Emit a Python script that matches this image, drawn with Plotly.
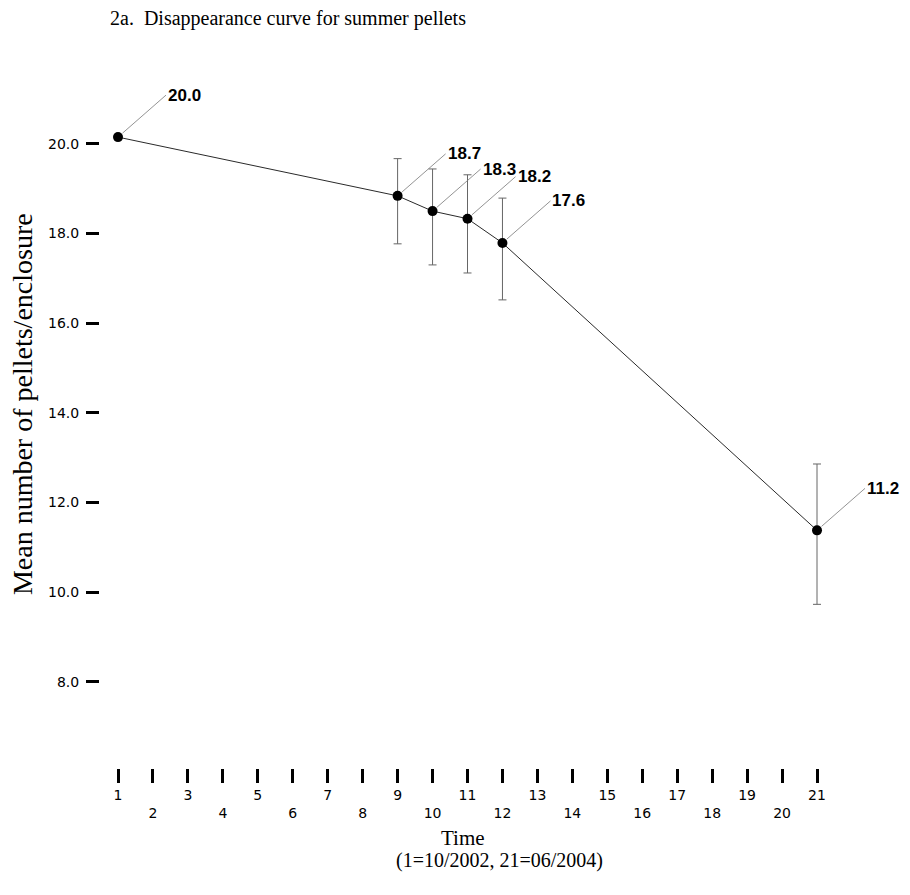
import plotly.graph_objects as go

# Data
time_pts = [1, 9, 10, 11, 12, 21]
mean_pellets = [20.15, 18.84, 18.5, 18.33, 17.79, 11.38]
err_plus = [0.0, 0.83, 0.94, 0.98, 1.0, 1.48]
err_minus = [0.0, 1.07, 1.2, 1.21, 1.27, 1.65]
point_labels = ["20.0", "18.7", "18.3", "18.2", "17.6", "11.2"]

x_ticks = list(range(1, 22))
x_ticktext = [str(v) if v % 2 == 1 else "<br>" + str(v) for v in x_ticks]
y_ticks = [8, 10, 12, 14, 16, 18, 20]

SERIF = "Liberation Serif, Times New Roman, serif"
SANS = "DejaVu Sans, Arial, sans-serif"
BOLD_SANS = "Liberation Sans, Arial, sans-serif"

W, H = 894, 879  # page body has an 8px margin

fig = go.Figure()
fig.add_trace(go.Scatter(
    x=time_pts, y=mean_pellets,
    mode="lines+markers",
    line=dict(color="#2a2a2a", width=1),
    marker=dict(color="black", size=10),
    error_y=dict(type="data", symmetric=False, array=err_plus, arrayminus=err_minus,
                 color="#666666", thickness=1, width=4),
    showlegend=False,
))

for xv, yv, lab in zip(time_pts, mean_pellets, point_labels):
    fig.add_annotation(
        x=xv, y=yv, text="<b>" + lab + "</b>",
        showarrow=True, arrowhead=0, arrowwidth=0.8, arrowcolor="#777777",
        ax=48, ay=-42, standoff=6, xanchor="left", yanchor="middle",
        font=dict(family=BOLD_SANS, size=17, color="black"),
    )

# Axis titles placed as text annotations
fig.add_annotation(xref="paper", yref="paper", x=0, y=0.514, xshift=-78,
                   text="Mean number of pellets/enclosure", textangle=-90, showarrow=False,
                   xanchor="center", yanchor="middle",
                   font=dict(family=SERIF, size=28, color="black"))
fig.add_annotation(xref="paper", yref="paper", x=0.4776, y=0, yshift=-70,
                   text="Time", showarrow=False, xanchor="center", yanchor="middle",
                   font=dict(family=SERIF, size=21, color="black"))
fig.add_annotation(xref="paper", yref="paper", x=0.526, y=0, yshift=-92,
                   text="(1=10/2002, 21=06/2004)", showarrow=False, xanchor="center", yanchor="middle",
                   font=dict(family=SERIF, size=20, color="black"))

fig.update_layout(
    width=W, height=H,
    margin=dict(l=92, r=W - 852, t=52, b=H - 760),
    plot_bgcolor="white", paper_bgcolor="white",
    title=dict(text="2a.  Disappearance curve for summer pellets",
               x=102 / W, xanchor="left", y=1 - 10 / H, yanchor="middle", yref="container",
               font=dict(family=SERIF, size=20, color="black")),
    xaxis=dict(range=[0.485, 22.23], tickmode="array", tickvals=x_ticks, ticktext=x_ticktext,
               showgrid=False, zeroline=False, showline=False,
               ticks="outside", ticklen=14, tickwidth=3, tickcolor="black",
               tickfont=dict(family=SANS, size=14, color="black")),
    yaxis=dict(range=[6.08, 21.87], tickmode="array", tickvals=y_ticks, tickformat=".1f",
               showgrid=False, zeroline=False, showline=False,
               ticks="outside", ticklen=13, tickwidth=3, tickcolor="black", ticklabelstandoff=4,
               tickfont=dict(family=SANS, size=14, color="black")),
)

fig.write_html("out.html")
